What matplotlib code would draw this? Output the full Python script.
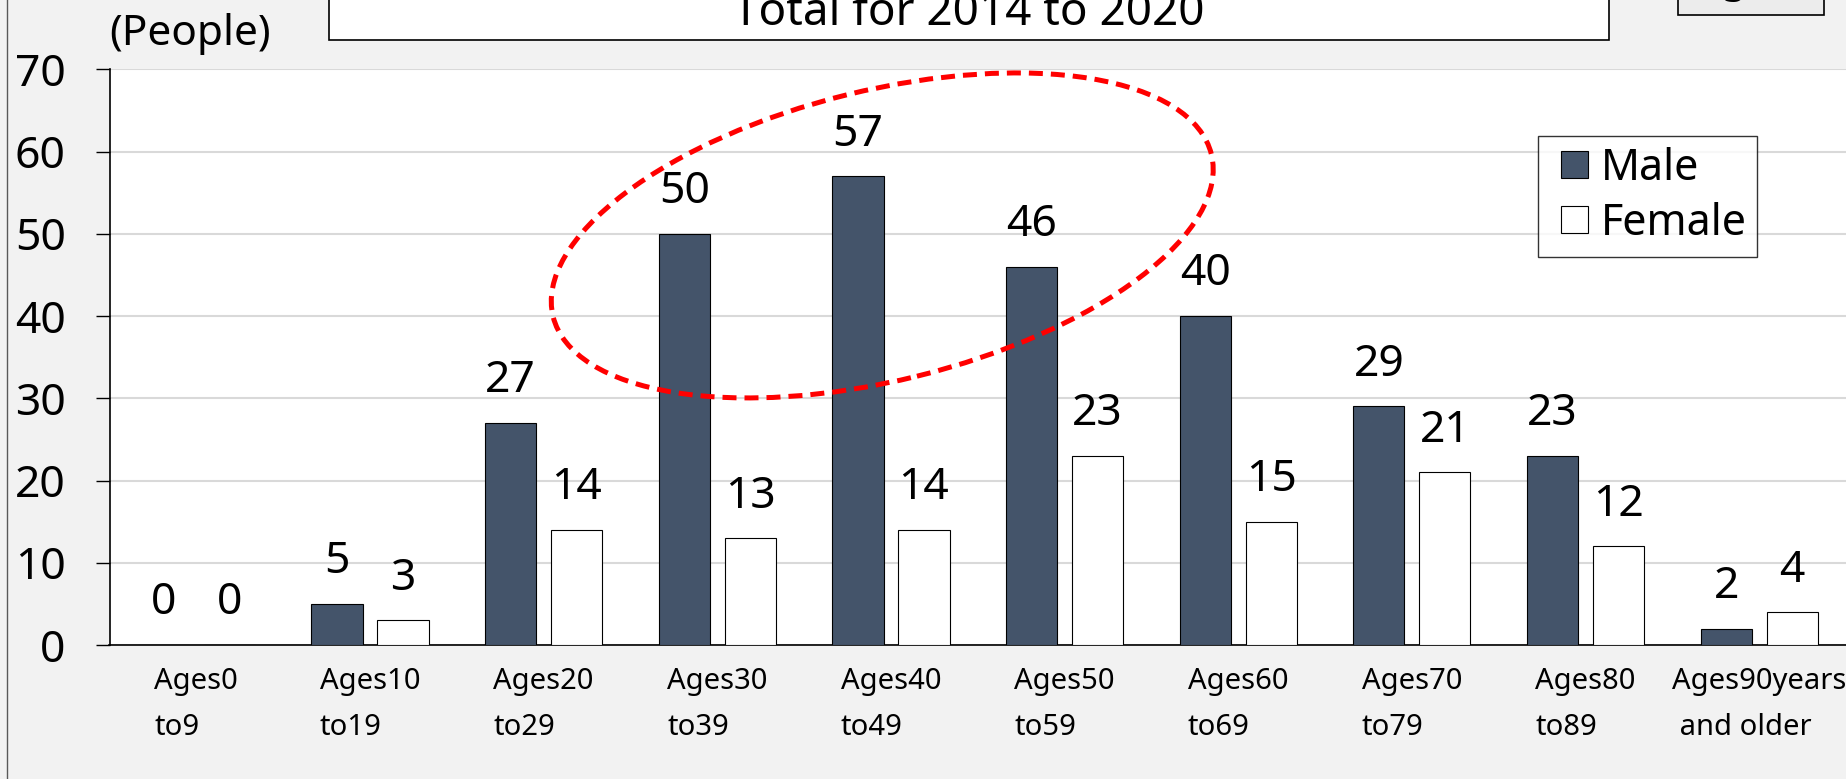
import matplotlib
matplotlib.use("Agg")
import matplotlib.pyplot as plt
import matplotlib.patches as mpatches
from matplotlib.transforms import ScaledTranslation
from matplotlib.legend_handler import HandlerPatch
from matplotlib.lines import Line2D

plt.rcParams['font.family'] = ['Noto Sans', 'DejaVu Sans']

# Totals for 2014 to 2020 by age group
age_groups = ['Ages0\nto9', 'Ages10\nto19', 'Ages20\nto29', 'Ages30\nto39',
              'Ages40\nto49', 'Ages50\nto59', 'Ages60\nto69', 'Ages70\nto79',
              'Ages80\nto89', 'Ages90years\n and older']
male = [0, 5, 27, 50, 57, 46, 40, 29, 23, 2]
female = [0, 3, 14, 13, 14, 23, 15, 21, 12, 4]
yticks = [0, 10, 20, 30, 40, 50, 60, 70]

W, H = 1846, 779
fig = plt.figure(figsize=(W / 100, H / 100), dpi=100, facecolor='#f2f2f2')
ax = fig.add_axes([109.5 / W, 1 - 645 / H, 1 - 109.5 / W, (645 - 69.3) / H])
ax.set_facecolor('white')

x = list(range(len(age_groups)))
bw = 0.295
off = 0.19
bars_m = ax.bar([i - off for i in x], male, bw, color='#44546a',
                edgecolor='black', linewidth=0.8, label='Male', zorder=3)
bars_f = ax.bar([i + off for i in x], female, bw, color='white',
                edgecolor='black', linewidth=0.8, label='Female', zorder=3)

for bars, vals in ((bars_m, male), (bars_f, female)):
    for b, v in zip(bars, vals):
        ax.annotate(str(v), (b.get_x() + b.get_width() / 2, v),
                    xytext=(0, 22), textcoords='offset points',
                    ha='center', va='baseline', fontsize=32, zorder=4)

ax.set_xlim(-0.5, len(age_groups) - 0.5)
ax.set_ylim(0, 70)
ax.set_yticks(yticks)
ax.set_xticks(x)
ax.set_xticklabels(age_groups, fontsize=21, multialignment='left', linespacing=1.75)
ax.tick_params(axis='x', length=0, pad=16)
ax.tick_params(axis='y', labelsize=32, length=10, width=1, pad=21.6, color='black')
ax.yaxis.grid(True, color='#d9d9d9', linewidth=1.5)
ax.set_axisbelow(True)
for s in ('top', 'right'):
    ax.spines[s].set_visible(False)
for s in ('left', 'bottom'):
    ax.spines[s].set_color('black')
    ax.spines[s].set_linewidth(1.2)

# unit label above the axis
fig.text(109 / W, 1 - 34 / H, '(People)', fontsize=30.5, ha='left', va='center')


# legend with square swatches sitting next to the text
def square(legend, orig_handle, xdescent, ydescent, width, height, fontsize):
    return mpatches.Rectangle((width - height - xdescent, -ydescent), height, height)


leg = ax.legend(handles=[bars_m[0], bars_f[0]], labels=['Male', 'Female'],
                loc='upper left',
                bbox_to_anchor=(1538 / W, 1 - 136 / H), bbox_transform=fig.transFigure,
                fontsize=31, frameon=True, fancybox=False, borderpad=0.25,
                handlelength=0.9, handleheight=0.58, handletextpad=0.3,
                labelspacing=0.26, borderaxespad=0,
                handler_map={mpatches.Rectangle: HandlerPatch(patch_func=square)})
leg.get_frame().set_edgecolor('black')
leg.get_frame().set_linewidth(1.0)
leg.set_zorder(6)

# dashed highlight around the 30s-50s peak
hl = mpatches.Ellipse((0, 0), width=6.78, height=2.90, angle=13.85,
                      transform=fig.dpi_scale_trans + ScaledTranslation(3.95, 49.8, ax.transData),
                      fill=False, edgecolor='#ff0000', linewidth=3.6,
                      linestyle=(0, (2.8, 1.6)), zorder=5)
ax.add_patch(hl)

# title box at the top
fig.patches.append(mpatches.Rectangle((329 / W, 1 - 40 / H), (1609 - 329) / W, 60 / H,
                                      transform=fig.transFigure, facecolor='white',
                                      edgecolor='black', linewidth=1.2, zorder=1))
fig.text(969 / W, 1 - 25 / H, 'Total for 2014 to 2020', fontsize=33,
         ha='center', va='baseline')

# figure number box in the corner
fig.patches.append(mpatches.Rectangle((1678 / W, 1 - 14.7 / H), (1824 - 1678) / W, 40 / H,
                                      transform=fig.transFigure, facecolor='#ececec',
                                      edgecolor='black', linewidth=1.2, zorder=1))
fig.text(1751 / W, 1 + 8 / H, 'Figure', fontsize=30, ha='center', va='baseline')

# outer chart border on the left
fig.lines.append(Line2D([7.5 / W, 7.5 / W], [0, 1], transform=fig.transFigure,
                        color='#595959', linewidth=1))

fig.savefig('out.png', dpi=100, facecolor=fig.get_facecolor())
